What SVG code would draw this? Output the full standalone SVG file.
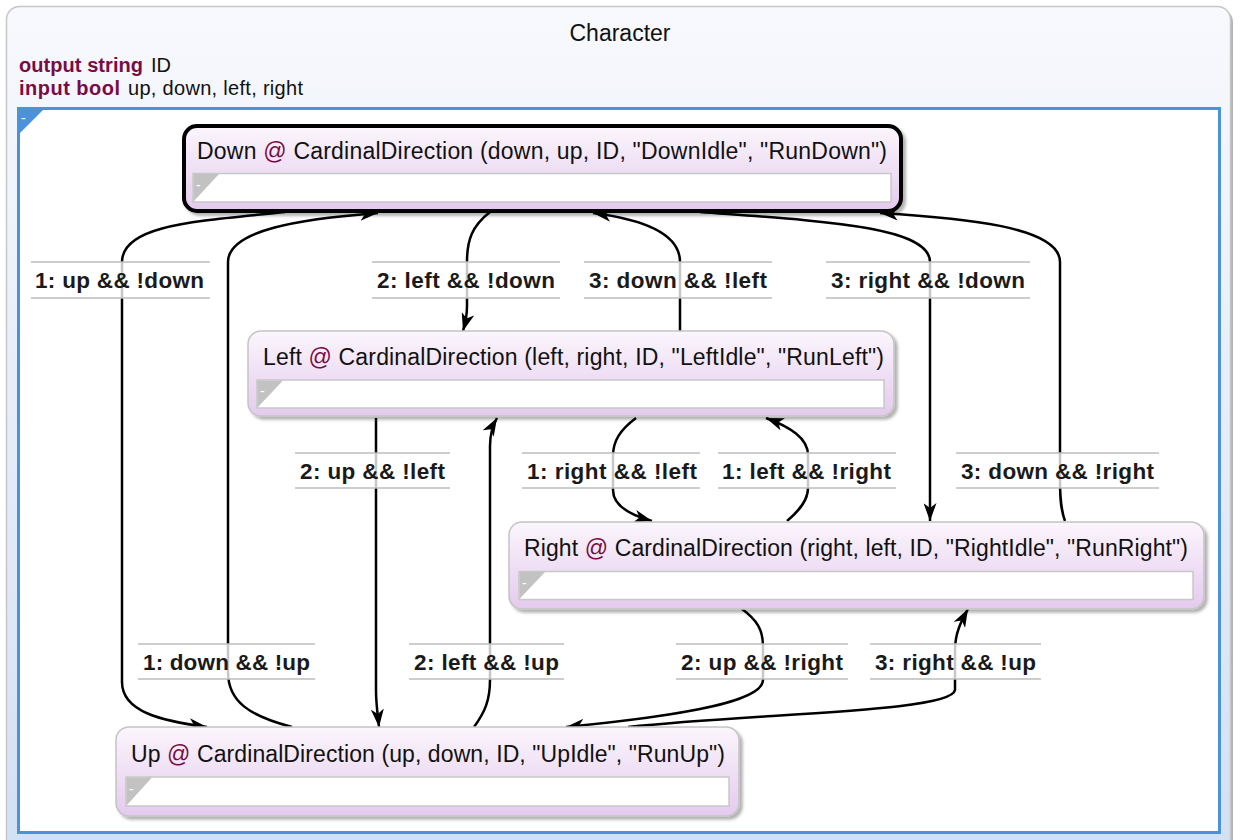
<svg xmlns="http://www.w3.org/2000/svg" width="1241" height="840" viewBox="0 0 1241 840">
  <defs>
    <linearGradient id="gOuter" x1="0" y1="0" x2="0" y2="1">
      <stop offset="0" stop-color="#f8f9fd"/>
      <stop offset="1" stop-color="#d2e0f4"/>
    </linearGradient>
    <linearGradient id="gNode" x1="0" y1="0" x2="0" y2="1">
      <stop offset="0" stop-color="#fbf6fc"/>
      <stop offset="1" stop-color="#e4caee"/>
    </linearGradient>
    <filter id="shadow" x="-5%" y="-10%" width="110%" height="130%">
      <feDropShadow dx="3" dy="3" stdDeviation="1.5" flood-color="#000" flood-opacity="0.3"/>
    </filter>
    <marker id="arrow" viewBox="0 0 18 13" refX="18" refY="6.5" markerWidth="18" markerHeight="13" orient="auto" markerUnits="userSpaceOnUse">
      <path d="M0,0 L18,6.5 L0,13 L5,6.5 z" fill="#000"/>
    </marker>
  </defs>
  <style>
    .txt { font-family: "Liberation Sans", Arial, sans-serif; fill: #111; }
    .kw { font-weight: bold; fill: #7a0c44; }
    .at { fill: #7a0c44; }
    .title { font-size: 23px; }
    .node { fill: url(#gNode); stroke: #c4c4c4; stroke-width: 1.5; filter: url(#shadow); }
    .initial { stroke: #000; stroke-width: 4; }
    .body { fill: #fff; stroke: #c8c8c8; stroke-width: 1.5; }
    .fold { fill: #c2c2c2; }
    .dash { font-family: "Liberation Sans", Arial, sans-serif; font-size: 14px; fill: #fff; }
    .edge { fill: none; stroke: #000; stroke-width: 2.5; marker-end: url(#arrow); }
    .lblbg { fill: #fff; fill-opacity: 0.78; }
    .lblline { stroke: #bdbdbd; stroke-width: 1.5; }
    .lbl { font-family: "Liberation Sans", Arial, sans-serif; font-size: 22.5px; font-weight: bold; fill: #1a1a1a; }
  </style>

  <!-- container state -->
  <g id="Character">
    <rect x="9" y="9" width="1224" height="850" rx="13" fill="#b4b4b4"/>
    <rect x="6.5" y="6.5" width="1224" height="850" rx="13" fill="url(#gOuter)" stroke="#c6c6c6" stroke-width="1.5"/>
    <text class="txt" x="620" y="41" font-size="23" text-anchor="middle">Character</text>
    <text class="txt" x="19" y="72" font-size="20"><tspan class="kw" textLength="124">output string</tspan><tspan x="151">ID</tspan></text>
    <text class="txt" x="19" y="95" font-size="20"><tspan class="kw" textLength="101">input bool</tspan><tspan x="128" textLength="175">up, down, left, right</tspan></text>
    <rect x="18.5" y="108.5" width="1201" height="724" fill="#fff" stroke="#4c92db" stroke-width="3"/>
    <path d="M18,108 L45,108 L18,135 z" fill="#4c92db"/>
    <text class="dash" x="21" y="123">-</text>
  </g>

  <!-- transitions -->
  <g id="connectors">
    <path class="edge" d="M285,212 C200,221 122,224 122,262 L122,682 C122,712 162,721 207,727"/>
    <path class="edge" d="M292,727 C250,716 228,702 228,672 L228,262 C228,230 300,219 378,213"/>
    <path class="edge" d="M490,212 C472,226 467,240 467,262 L467,306 C467,318 465,324 463,331"/>
    <path class="edge" d="M680,331 L680,262 C680,232 640,219 593,213"/>
    <path class="edge" d="M700,212 C820,221 930,226 930,262 L930,521"/>
    <path class="edge" d="M1065,521 C1061,510 1060,500 1060,480 L1060,262 C1060,226 960,218 880,213"/>
    <path class="edge" d="M376,418 L376,690 C376,705 378,716 379,727"/>
    <path class="edge" d="M474,727 C485,712 490,700 490,680 L490,446 C490,434 493,425 497,418"/>
    <path class="edge" d="M636,418 C620,430 613,441 613,456 L613,490 C613,505 630,515 652,521"/>
    <path class="edge" d="M787,521 C800,510 808,500 808,488 L808,455 C808,438 790,427 766,418"/>
    <path class="edge" d="M742,609 C757,620 763,630 763,646 L763,680 C763,702 680,716 566,727"/>
    <path class="edge" d="M628,727 C760,713 952,712 955,690 L955,650 C955,632 962,620 968,609"/>
  </g>

  <!-- transition labels -->
  <g id="labels">
    <g>
      <rect class="lblbg" x="31" y="262" width="179" height="36"/>
      <line class="lblline" x1="31" y1="262" x2="210" y2="262"/><line class="lblline" x1="31" y1="298" x2="210" y2="298"/>
      <text class="lbl" x="35" y="288" textLength="169">1: up &amp;&amp; !down</text>
    </g>
    <g>
      <rect class="lblbg" x="372" y="262" width="188" height="36"/>
      <line class="lblline" x1="372" y1="262" x2="560" y2="262"/><line class="lblline" x1="372" y1="298" x2="560" y2="298"/>
      <text class="lbl" x="377" y="288" textLength="178">2: left &amp;&amp; !down</text>
    </g>
    <g>
      <rect class="lblbg" x="584" y="262" width="188" height="36"/>
      <line class="lblline" x1="584" y1="262" x2="772" y2="262"/><line class="lblline" x1="584" y1="298" x2="772" y2="298"/>
      <text class="lbl" x="589" y="288" textLength="178">3: down &amp;&amp; !left</text>
    </g>
    <g>
      <rect class="lblbg" x="826" y="262" width="204" height="36"/>
      <line class="lblline" x1="826" y1="262" x2="1030" y2="262"/><line class="lblline" x1="826" y1="298" x2="1030" y2="298"/>
      <text class="lbl" x="831" y="288" textLength="194">3: right &amp;&amp; !down</text>
    </g>
    <g>
      <rect class="lblbg" x="295" y="453" width="155" height="35"/>
      <line class="lblline" x1="295" y1="453" x2="450" y2="453"/><line class="lblline" x1="295" y1="488" x2="450" y2="488"/>
      <text class="lbl" x="300" y="479" textLength="145">2: up &amp;&amp; !left</text>
    </g>
    <g>
      <rect class="lblbg" x="522" y="453" width="178" height="35"/>
      <line class="lblline" x1="522" y1="453" x2="700" y2="453"/><line class="lblline" x1="522" y1="488" x2="700" y2="488"/>
      <text class="lbl" x="527" y="479" textLength="170">1: right &amp;&amp; !left</text>
    </g>
    <g>
      <rect class="lblbg" x="718" y="453" width="178" height="35"/>
      <line class="lblline" x1="718" y1="453" x2="896" y2="453"/><line class="lblline" x1="718" y1="488" x2="896" y2="488"/>
      <text class="lbl" x="722" y="479" textLength="169">1: left &amp;&amp; !right</text>
    </g>
    <g>
      <rect class="lblbg" x="956" y="453" width="203" height="35"/>
      <line class="lblline" x1="956" y1="453" x2="1159" y2="453"/><line class="lblline" x1="956" y1="488" x2="1159" y2="488"/>
      <text class="lbl" x="961" y="479" textLength="193">3: down &amp;&amp; !right</text>
    </g>
    <g>
      <rect class="lblbg" x="138" y="644" width="177" height="35"/>
      <line class="lblline" x1="138" y1="644" x2="315" y2="644"/><line class="lblline" x1="138" y1="679" x2="315" y2="679"/>
      <text class="lbl" x="143" y="670" textLength="167">1: down &amp;&amp; !up</text>
    </g>
    <g>
      <rect class="lblbg" x="409" y="644" width="155" height="35"/>
      <line class="lblline" x1="409" y1="644" x2="564" y2="644"/><line class="lblline" x1="409" y1="679" x2="564" y2="679"/>
      <text class="lbl" x="414" y="670" textLength="145">2: left &amp;&amp; !up</text>
    </g>
    <g>
      <rect class="lblbg" x="676" y="644" width="172" height="35"/>
      <line class="lblline" x1="676" y1="644" x2="848" y2="644"/><line class="lblline" x1="676" y1="679" x2="848" y2="679"/>
      <text class="lbl" x="681" y="670" textLength="162">2: up &amp;&amp; !right</text>
    </g>
    <g>
      <rect class="lblbg" x="870" y="644" width="171" height="35"/>
      <line class="lblline" x1="870" y1="644" x2="1041" y2="644"/><line class="lblline" x1="870" y1="679" x2="1041" y2="679"/>
      <text class="lbl" x="875" y="670" textLength="161">3: right &amp;&amp; !up</text>
    </g>
  </g>

  <!-- states -->
  <g id="Down">
    <rect class="node initial" x="184" y="126" width="717" height="85" rx="13"/>
    <text class="txt title" x="197" y="159" textLength="690">Down <tspan class="at">@</tspan> CardinalDirection (down, up, ID, "DownIdle", "RunDown")</text>
    <rect class="body" x="193" y="173.5" width="698" height="28.5"/>
    <path class="fold" d="M193.5,174 L219,174 L193.5,201.5 z"/>
    <text class="dash" x="196" y="190">-</text>
  </g>

  <g id="Left">
    <rect class="node" x="248" y="331" width="646" height="85" rx="13"/>
    <text class="txt title" x="263" y="365" textLength="621">Left <tspan class="at">@</tspan> CardinalDirection (left, right, ID, "LeftIdle", "RunLeft")</text>
    <rect class="body" x="257" y="380" width="627" height="28"/>
    <path class="fold" d="M257.5,380.5 L283,380.5 L257.5,407.5 z"/>
    <text class="dash" x="260" y="396">-</text>
  </g>

  <g id="Right">
    <rect class="node" x="509" y="522" width="695" height="87" rx="13"/>
    <text class="txt title" x="524" y="556" textLength="664">Right <tspan class="at">@</tspan> CardinalDirection (right, left, ID, "RightIdle", "RunRight")</text>
    <rect class="body" x="519" y="571.5" width="674" height="28"/>
    <path class="fold" d="M519.5,572 L545,572 L519.5,599 z"/>
    <text class="dash" x="522" y="588">-</text>
  </g>

  <g id="Up">
    <rect class="node" x="116" y="727" width="623" height="89" rx="13"/>
    <text class="txt title" x="131" y="762" textLength="594">Up <tspan class="at">@</tspan> CardinalDirection (up, down, ID, "UpIdle", "RunUp")</text>
    <rect class="body" x="126" y="777" width="603" height="29"/>
    <path class="fold" d="M126.5,777.5 L152,777.5 L126.5,805.5 z"/>
    <text class="dash" x="129" y="794">-</text>
  </g>
</svg>
